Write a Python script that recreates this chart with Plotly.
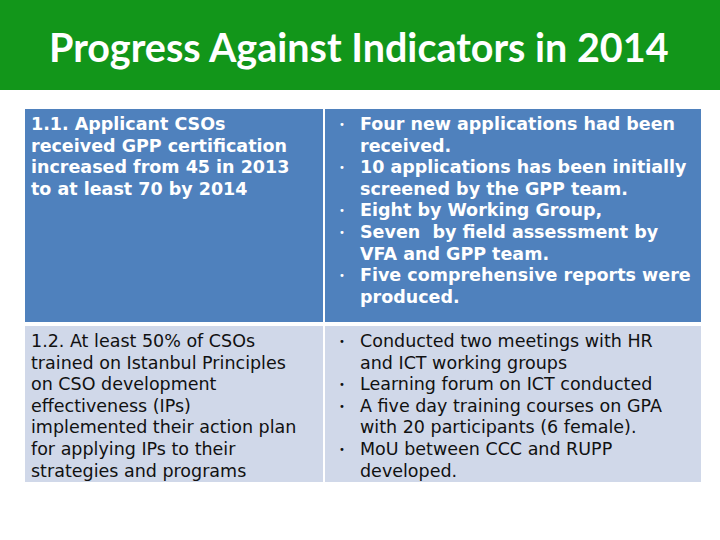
import plotly.graph_objects as go

title = "Progress Against Indicators in 2014"

# indicator text, already wrapped as in the slide
indicators = [
    ["1.1. Applicant CSOs", "received GPP certification",
     "increased from 45 in 2013", "to at least 70 by 2014"],
    ["1.2. At least 50% of CSOs", "trained on Istanbul Principles",
     "on CSO development", "effectiveness (IPs)",
     "implemented their action plan", "for applying IPs to their",
     "strategies and programs"],
]

# progress bullets, each item a list of wrapped lines
progress = [
    [["Four new applications had been", "received."],
     ["10 applications has been initially", "screened by the GPP team."],
     ["Eight by Working Group,"],
     ["Seven  by field assessment by", "VFA and GPP team."],
     ["Five comprehensive reports were", "produced."]],
    [["Conducted two meetings with HR", "and ICT working groups"],
     ["Learning forum on ICT conducted"],
     ["A five day training courses on GPA", "with 20 participants (6 female)."],
     ["MoU between CCC and RUPP", "developed."]],
]

row_fill = ["#4F81BD", "#D0D8E9"]
row_font = [dict(family="DejaVu Sans", size=17.5, color="white"),
            dict(family="DejaVu Sans", size=17.5, color="#111111")]
row_top = [109, 326]
row_bottom = [322, 482]
line_h = 21.6

fig = go.Figure()
fig.add_trace(go.Scatter(x=[0, 720], y=[0, 540], mode="markers",
                         marker=dict(opacity=0), hoverinfo="skip", showlegend=False))

shapes = [dict(type="rect", x0=0, x1=720, y0=0, y1=90, line_width=0, fillcolor="#12961A")]
annotations = [dict(x=359, y=46, text="<b>" + title + "</b>", showarrow=False,
                    xanchor="center", yanchor="middle",
                    font=dict(family="Lato", size=39.5, color="white"))]

for r in range(2):
    for x0, x1 in [(25, 323), (325, 701)]:
        shapes.append(dict(type="rect", x0=x0, x1=x1, y0=row_top[r], y1=row_bottom[r],
                           line_width=0, fillcolor=row_fill[r], layer="below"))
    bold = r == 0
    y = row_top[r] + 3
    for i, ln in enumerate(indicators[r]):
        annotations.append(dict(x=29, y=y + i * line_h, text="<b>" + ln + "</b>" if bold else ln,
                                showarrow=False, xanchor="left", yanchor="top",
                                font=row_font[r]))
    k = 0
    for item in progress[r]:
        annotations.append(dict(x=337, y=y + k * line_h, text="•", showarrow=False,
                                xanchor="left", yanchor="top",
                                font=dict(family="DejaVu Sans", size=10, color=row_font[r]["color"]),
                                yshift=-5))
        for ln in item:
            annotations.append(dict(x=358, y=y + k * line_h, text="<b>" + ln + "</b>" if bold else ln,
                                    showarrow=False, xanchor="left", yanchor="top",
                                    font=row_font[r]))
            k += 1

fig.update_layout(width=720, height=540, margin=dict(l=0, r=0, t=0, b=0),
                  paper_bgcolor="white", plot_bgcolor="white",
                  shapes=shapes, annotations=annotations)
fig.update_xaxes(range=[0, 720], visible=False, fixedrange=True)
fig.update_yaxes(range=[540, 0], visible=False, fixedrange=True)

fig.write_html("out.html", config={"displayModeBar": False},
               post_script="document.body.style.margin='0';")
